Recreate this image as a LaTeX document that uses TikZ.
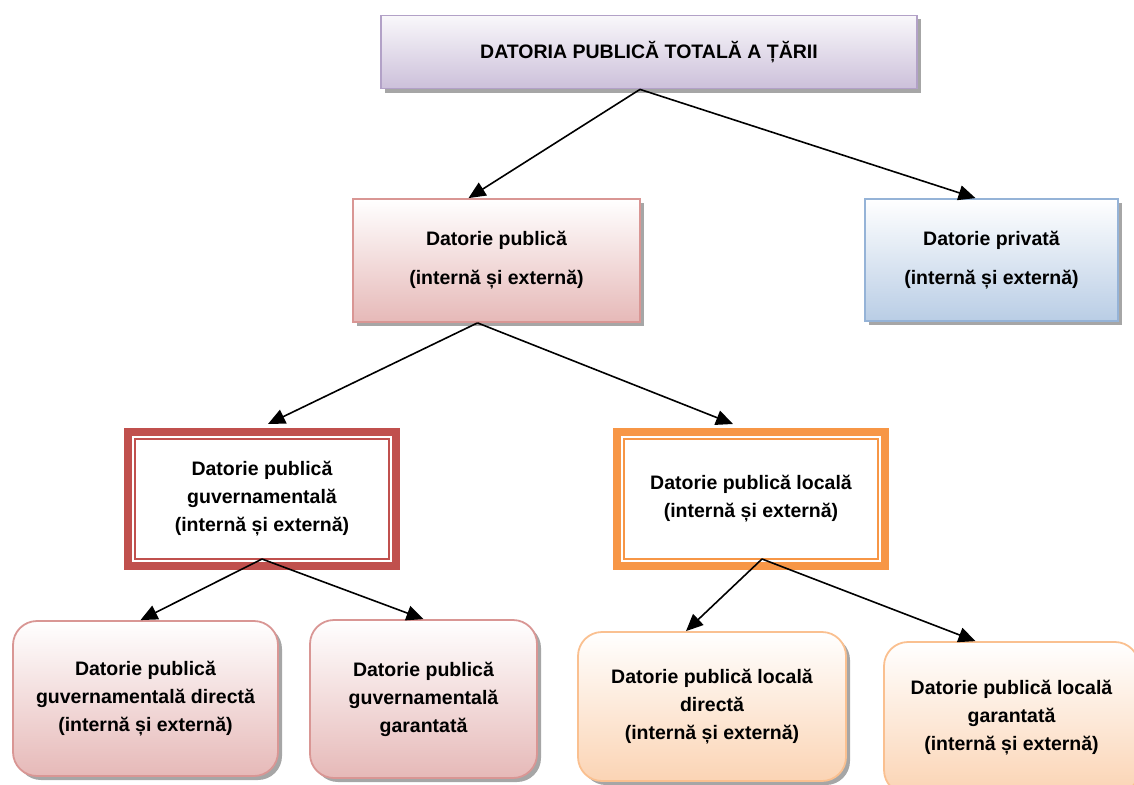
\documentclass[tikz,border=0pt]{standalone}
\usepackage{fontspec}
\setmainfont{Liberation Sans}
\usetikzlibrary{arrows.meta,shadows}
\definecolor{totalfill}{HTML}{CCC0DA}
\definecolor{totaldraw}{HTML}{B2A1C7}
\definecolor{pubfill}{HTML}{E6B9B8}
\definecolor{pubdraw}{HTML}{D99694}
\definecolor{privfill}{HTML}{B9CDE5}
\definecolor{privdraw}{HTML}{95B3D7}
\definecolor{guvdraw}{HTML}{C0504D}
\definecolor{locdraw}{HTML}{F79646}
\definecolor{locfill}{HTML}{FBD4B4}
\definecolor{locline}{HTML}{FAC090}
\definecolor{boxshadow}{HTML}{A6A6A6}

\begin{document}
\begin{tikzpicture}[x=1pt, y=-1pt,
  every node/.style={font=\fontsize{19.5}{28}\selectfont\bfseries, align=center, inner sep=0pt},
  link/.style={-{Triangle[length=17pt,width=15pt]}, line width=1.6pt},
  box/.style={rectangle, line width=1.8pt,
    drop shadow={shadow xshift=4pt, shadow yshift=-4pt, fill=boxshadow, opacity=1}},
  roundbox/.style={box, rounded corners=24pt},
  frame/.style={rectangle, line width=8pt, minimum width=268pt, minimum height=134pt, fill=white}]
  \useasboundingbox (0,0) rectangle (1134,784);
  \clip (0,0) rectangle (1134,784);

  % Top level
  \node[box, draw=totaldraw, top color=totalfill!12, bottom color=totalfill,
    minimum width=536pt, minimum height=73pt] (total) at (649,52) {DATORIA PUBLICĂ TOTALĂ A ȚĂRII};

  % Second level
  \node[box, draw=pubdraw, top color=white, bottom color=pubfill,
    minimum width=287pt, minimum height=123pt] (pub) at (496.5,260.5) {Datorie publică\\[11pt](internă și externă)};
  \node[box, draw=privdraw, top color=white, bottom color=privfill,
    minimum width=253pt, minimum height=122pt] (priv) at (991.5,260) {Datorie privată\\[11pt](internă și externă)};

  % Third level (framed boxes)
  \node[frame, draw=guvdraw] (guv) at (262,499) {Datorie publică\\guvernamentală\\(internă și externă)};
  \draw[guvdraw, line width=2pt] ([shift={(11,11)}]guv.north west) rectangle ([shift={(-11,-11)}]guv.south east);
  \node[frame, draw=locdraw] (loc) at (751,499) {Datorie publică locală\\(internă și externă)};
  \draw[locdraw, line width=2pt] ([shift={(11,11)}]loc.north west) rectangle ([shift={(-11,-11)}]loc.south east);

  % Bottom level
  \node[roundbox, draw=pubdraw, top color=white, bottom color=pubfill,
    minimum width=265pt, minimum height=155pt] (gdir) at (145.5,698.5) {Datorie publică\\guvernamentală directă\\(internă și externă)};
  \node[roundbox, draw=pubdraw, top color=white, bottom color=pubfill,
    minimum width=227pt, minimum height=158pt] (ggar) at (423.5,699) {Datorie publică\\guvernamentală\\garantată};
  \node[roundbox, draw=locline, top color=white, bottom color=locfill,
    minimum width=268pt, minimum height=149pt] (ldir) at (712,706.5) {Datorie publică locală\\directă\\(internă și externă)};
  \node[roundbox, draw=locline, top color=white, bottom color=locfill,
    minimum width=255pt, minimum height=152pt] (lgar) at (1011.5,718) {Datorie publică locală\\garantată\\(internă și externă)};

  % Connectors
  \draw[link] ([xshift=-9pt]total.south) -- ([xshift=-28pt]pub.north);
  \draw[link] ([xshift=-9pt]total.south) -- ([xshift=-16pt]priv.north);
  \draw[link] ([xshift=-19pt]pub.south) -- ([xshift=6pt,yshift=4pt]guv.north);
  \draw[link] ([xshift=-19pt]pub.south) -- ([xshift=-18pt,yshift=4pt]loc.north);
  \draw[link] ([yshift=11pt]guv.south) -- ([xshift=-5pt]gdir.north);
  \draw[link] ([yshift=11pt]guv.south) -- (ggar.north);
  \draw[link] ([xshift=11pt,yshift=11pt]loc.south) -- ([xshift=-26pt]ldir.north);
  \draw[link] ([xshift=11pt,yshift=11pt]loc.south) -- ([xshift=-36pt]lgar.north);
\end{tikzpicture}
\end{document}
